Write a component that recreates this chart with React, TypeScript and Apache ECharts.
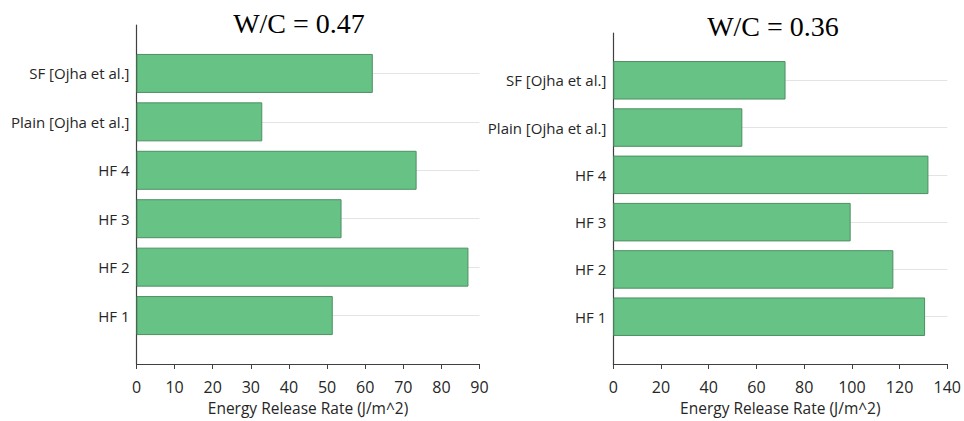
import React, { useEffect, useRef } from "react";
import * as echarts from "echarts";

// Mix designs, bottom to top
const categories = ["HF 1", "HF 2", "HF 3", "HF 4", "Plain [Ojha et al.]", "SF [Ojha et al.]"];

// Energy release rate (J/m^2) per mix
const valuesWC047 = [51.5, 87.1, 53.8, 73.5, 33, 62];
const valuesWC036 = [130.7, 117.4, 99.5, 132.1, 54.1, 72.2];

const titleLeft = "W/C = 0.47";
const titleRight = "W/C = 0.36";
const xAxisName = "Energy Release Rate (J/m^2)";

const FONT = "'Open Sans', 'DejaVu Sans', sans-serif";
const AXIS_COLOR = "#404040";
const TEXT_COLOR = "#262626";
const BAR_FILL = "#66c285";
const BAR_BORDER = "#4e8f62";

// Empty slots at both ends leave half a band of space above and below the bars
const paddedCategories = ["", ...categories, ""];
const pad = (vals: number[]) => [null, ...vals, null];

function yAxisFor(gridIndex: number) {
  const last = paddedCategories.length - 1;
  return {
    type: "category" as const,
    gridIndex,
    data: paddedCategories,
    boundaryGap: false,
    axisLine: { show: true, lineStyle: { color: AXIS_COLOR, width: 1.2 } },
    axisTick: { show: false },
    axisLabel: { color: TEXT_COLOR, fontSize: 15, fontFamily: FONT, margin: 7 },
    splitLine: {
      show: true,
      interval: (index: number) => index !== 0 && index !== last,
      lineStyle: { color: "#e4e4e4", width: 1 },
    },
  };
}

function xAxisFor(gridIndex: number, max: number, interval: number) {
  return {
    type: "value" as const,
    gridIndex,
    min: 0,
    max,
    interval,
    name: xAxisName,
    nameLocation: "middle" as const,
    nameGap: 36,
    nameTextStyle: { color: TEXT_COLOR, fontSize: 15.5, fontFamily: FONT },
    axisLine: { show: true, lineStyle: { color: AXIS_COLOR, width: 1.2 } },
    axisTick: { show: true, length: 5, lineStyle: { color: AXIS_COLOR } },
    axisLabel: { color: TEXT_COLOR, fontSize: 16, fontFamily: FONT, margin: 15 },
    splitLine: { show: false },
  };
}

function barSeries(index: number, values: number[], width: number) {
  return {
    type: "bar" as const,
    xAxisIndex: index,
    yAxisIndex: index,
    data: pad(values),
    barWidth: width,
    itemStyle: { color: BAR_FILL, borderColor: BAR_BORDER, borderWidth: 1 },
  };
}

export default function App() {
  const ref = useRef<HTMLDivElement>(null);

  useEffect(() => {
    if (!ref.current) return;
    const chart = echarts.init(ref.current, null, { renderer: "svg" });
    chart.setOption({
      animation: false,
      backgroundColor: "#ffffff",
      grid: [
        { left: 136.5, top: 25, width: 343, height: 341 },
        { left: 613.3, top: 33, width: 335, height: 335 },
      ],
      xAxis: [xAxisFor(0, 90, 10), xAxisFor(1, 140, 20)],
      yAxis: [yAxisFor(0), yAxisFor(1)],
      series: [barSeries(0, valuesWC047, 39), barSeries(1, valuesWC036, 38.5)],
      graphic: [
        {
          type: "text",
          x: 299,
          y: 23,
          style: {
            text: titleLeft,
            font: "28px 'Liberation Serif', 'Times New Roman', serif",
            fill: "#000000",
            textAlign: "center",
            textVerticalAlign: "middle",
          },
        },
        {
          type: "text",
          x: 773,
          y: 26,
          style: {
            text: titleRight,
            font: "28px 'Liberation Serif', 'Times New Roman', serif",
            fill: "#000000",
            textAlign: "center",
            textVerticalAlign: "middle",
          },
        },
      ],
    });
    return () => chart.dispose();
  }, []);

  return (
    <div
      ref={ref}
      style={{ position: "fixed", left: 0, top: 0, width: 964, height: 421 }}
    />
  );
}
